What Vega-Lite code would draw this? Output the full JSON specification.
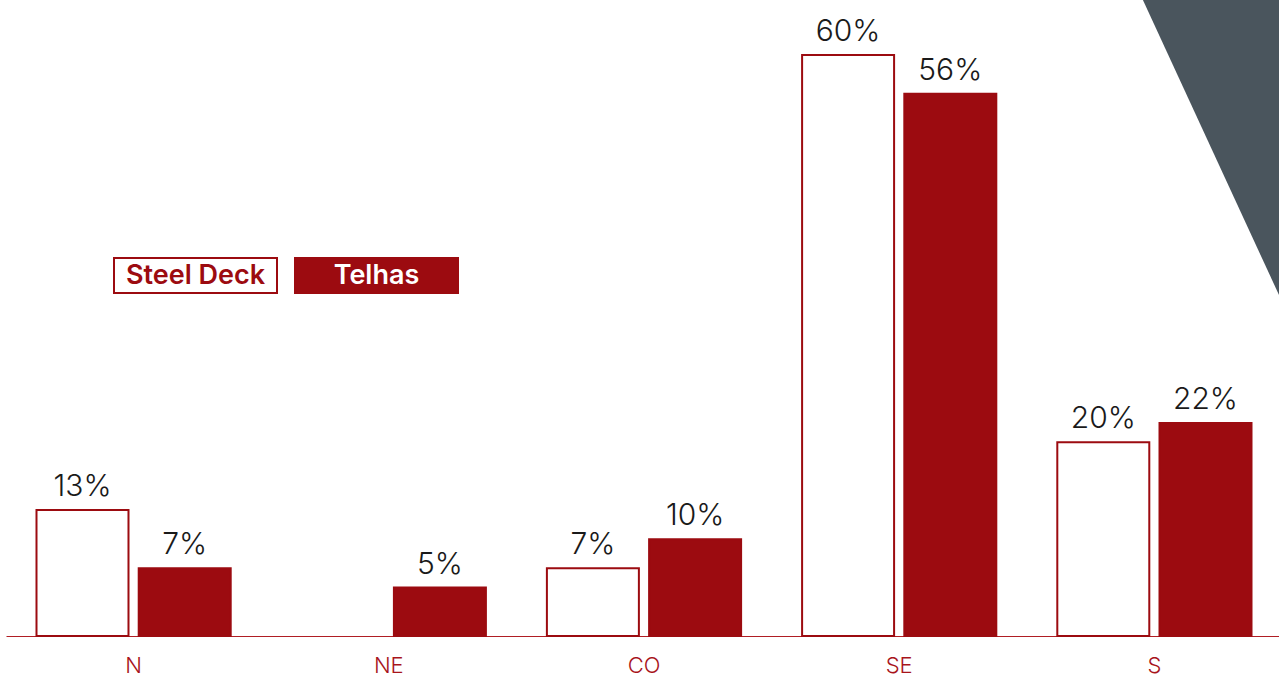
{
  "$schema": "https://vega.github.io/schema/vega-lite/v6.json",
  "autosize": {"type": "none"},
  "padding": {"left": 6, "top": 0, "right": 0, "bottom": 40},
  "width": 1276,
  "height": 636,
  "background": "#ffffff",
  "config": {"view": {"stroke": null}},
  "layer": [
    {
      "data": {"values": [
        {"tx": 0.891, "ty": 0.6568, "ty2": 0.6568},
        {"tx": 1.0, "ty": 0.3454, "ty2": 0.6568}
      ]},
      "mark": {"type": "area", "color": "#4A555D", "clip": true},
      "encoding": {
        "x": {"field": "tx", "type": "quantitative", "scale": {"domain": [0, 1], "nice": false, "zero": false}, "axis": null},
        "y": {"field": "ty", "type": "quantitative", "scale": {"domain": [0, 0.6568], "nice": false}, "axis": null},
        "y2": {"field": "ty2"}
      }
    },
    {
      "data": {"values": [
        {"region": "N", "series": "Steel Deck", "share": 0.13},
        {"region": "N", "series": "Telhas", "share": 0.07},
        {"region": "NE", "series": "Telhas", "share": 0.05},
        {"region": "CO", "series": "Steel Deck", "share": 0.07},
        {"region": "CO", "series": "Telhas", "share": 0.10},
        {"region": "SE", "series": "Steel Deck", "share": 0.60},
        {"region": "SE", "series": "Telhas", "share": 0.56},
        {"region": "S", "series": "Steel Deck", "share": 0.20},
        {"region": "S", "series": "Telhas", "share": 0.22}
      ]},
      "encoding": {
        "x": {
          "field": "region", "type": "nominal", "sort": ["N", "NE", "CO", "SE", "S"],
          "scale": {"paddingInner": 0.231, "paddingOuter": 0.1155},
          "axis": {
            "title": null, "ticks": false, "tickSize": 0, "domainColor": "#B01E24", "domainWidth": 1,
            "labelFont": "Inter", "labelFontWeight": 300, "labelFontSize": 22, "labelColor": "#A8141B",
            "labelPadding": 19, "labelAngle": 0, "grid": false
          }
        },
        "xOffset": {"field": "series", "type": "nominal", "scale": {"domain": ["Steel Deck", "Telhas"], "paddingInner": 0.1, "paddingOuter": 0.01}},
        "y": {"field": "share", "type": "quantitative", "scale": {"domain": [0, 0.6568], "nice": false}, "axis": null}
      },
      "layer": [
        {
          "mark": {"type": "bar", "stroke": "#9C0B10", "strokeWidth": 2},
          "encoding": {
            "fill": {
              "field": "series", "type": "nominal",
              "scale": {"domain": ["Steel Deck", "Telhas"], "range": ["#ffffff", "#9C0B10"]},
              "legend": {
                "title": null, "orient": "none", "direction": "horizontal",
                "legendX": 107, "legendY": 193, "padding": 0,
                "symbolType": "M-1,-0.2147H1V0.2147H-1Z", "symbolSize": 26569,
                "symbolStrokeColor": "#9C0B10", "symbolStrokeWidth": 2, "symbolOpacity": 1,
                "columnPadding": 10,
                "labelFont": "Inter", "labelFontWeight": 600, "labelFontSize": 27,
                "labelAlign": "center", "labelBaseline": "middle", "labelOffset": -82.5, "labelLimit": 300,
                "encode": {"labels": {"update": {"fill": {"signal": "datum.label === 'Telhas' ? '#ffffff' : '#9C0B10'"}}}}
              }
            }
          }
        },
        {
          "mark": {"type": "text", "baseline": "alphabetic", "dy": -14, "font": "Inter", "fontWeight": 300, "fontSize": 30, "color": "#1a1a1a"},
          "encoding": {
            "text": {"field": "share", "type": "quantitative", "format": ".0%"}
          }
        }
      ]
    }
  ],
  "resolve": {"scale": {"x": "independent"}}
}
